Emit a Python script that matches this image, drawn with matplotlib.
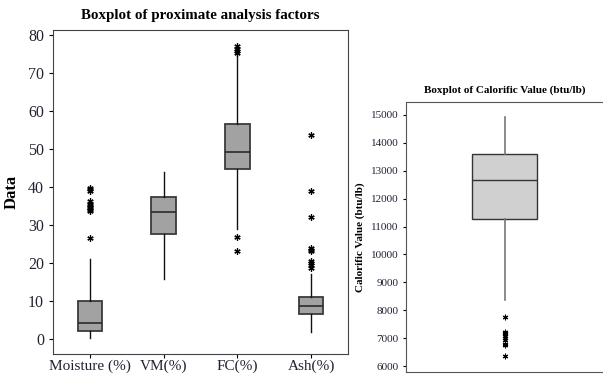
import matplotlib.pyplot as plt

plt.rcParams['font.family'] = ['Liberation Serif', 'DejaVu Serif']

#----------------------------------------------------------------------------------
# proximate analysis

labels = ["Moisture (%)", "VM(%)", "FC(%)", "Ash(%)"]
q1 = [2.0, 27.5, 44.7, 6.5]
median = [4.2, 33.5, 49.2, 8.6]
q3 = [10.0, 37.3, 56.6, 11.0]
whisker_low = [0.3, 15.7, 29.0, 1.7]
whisker_high = [21.0, 44.0, 74.5, 17.0]
outliers = [
    [26.5, 33.6, 34.0, 34.4, 34.8, 35.2, 35.6, 36.2, 38.8, 39.4, 39.8],
    [],
    [23.2, 26.7, 75.2, 75.7, 76.3, 77.0],
    [18.7, 19.3, 20.0, 20.4, 23.0, 23.5, 24.0, 32.0, 39.0, 53.7],
]

#----------------------------------------------------------------------------------
# calorific value

cv_q1 = 11270
cv_median = 12670
cv_q3 = 13600
cv_low = 8380
cv_high = 14930
cv_outliers = [7750, 7230, 7180, 7130, 7080, 7020, 6950, 6800, 6750, 6350]

#----------------------------------------------------------------------------------

star = (6, 2, 0)  # asterisk marker
tick_color = "#222233"

fig = plt.figure(figsize=(6.03, 3.76), dpi=100)

ax1 = fig.add_axes([53 / 603, 22 / 376, 295 / 603, 324 / 376])
stats = []
for i in range(len(labels)):
    stats.append(dict(label=labels[i], q1=q1[i], med=median[i], q3=q3[i],
                      whislo=whisker_low[i], whishi=whisker_high[i], fliers=outliers[i]))
ax1.bxp(stats, positions=[1, 2, 3, 4], widths=0.33, patch_artist=True, showcaps=False,
        boxprops=dict(facecolor="#a2a2a2", edgecolor="#3a3a3a", linewidth=1.3),
        medianprops=dict(color="#2a2a2a", linewidth=1.2),
        whiskerprops=dict(color="#111111", linewidth=1.0),
        flierprops=dict(marker=star, markersize=4.5, markeredgecolor="black", markeredgewidth=0.9))
ax1.set_xlim(0.5, 4.5)
ax1.set_ylim(-4, 81.3)
ax1.set_yticks([0, 10, 20, 30, 40, 50, 60, 70, 80])
ax1.tick_params(axis="y", labelsize=11.5, labelcolor=tick_color, length=3)
ax1.tick_params(axis="x", labelsize=11, labelcolor=tick_color, length=3, pad=1)
ax1.set_ylabel("Data", fontsize=12, fontweight="bold", labelpad=6)
ax1.set_title("Boxplot of proximate analysis factors", fontsize=10.8, fontweight="bold", pad=8)
for s in ax1.spines.values():
    s.set_color("#444444")

ax2 = fig.add_axes([406 / 603, 4 / 376, 197 / 603, 270 / 376])
ax2.bxp([dict(label="", q1=cv_q1, med=cv_median, q3=cv_q3, whislo=cv_low, whishi=cv_high,
              fliers=cv_outliers)],
        positions=[1], widths=0.67, patch_artist=True, showcaps=False,
        boxprops=dict(facecolor="#d0d0d0", edgecolor="#333333", linewidth=1.0),
        medianprops=dict(color="#333333", linewidth=1.0),
        whiskerprops=dict(color="#777777", linewidth=1.2),
        flierprops=dict(marker=star, markersize=4, markeredgecolor="black", markeredgewidth=0.8))
ax2.set_xlim(0.0, 2.0)
ax2.set_ylim(5785, 15466)
ax2.set_yticks([6000, 7000, 8000, 9000, 10000, 11000, 12000, 13000, 14000, 15000])
ax2.set_xticks([])
ax2.tick_params(axis="y", labelsize=8, labelcolor=tick_color, length=2)
ax2.set_ylabel("Calorific Value (btu/lb)", fontsize=8, fontweight="bold", labelpad=4)
ax2.set_title("Boxplot of Calorific Value (btu/lb)", fontsize=8, fontweight="bold", pad=7)
ax2.spines["right"].set_visible(False)
for s in ax2.spines.values():
    s.set_color("#555555")

plt.savefig("out.png", dpi=100)
